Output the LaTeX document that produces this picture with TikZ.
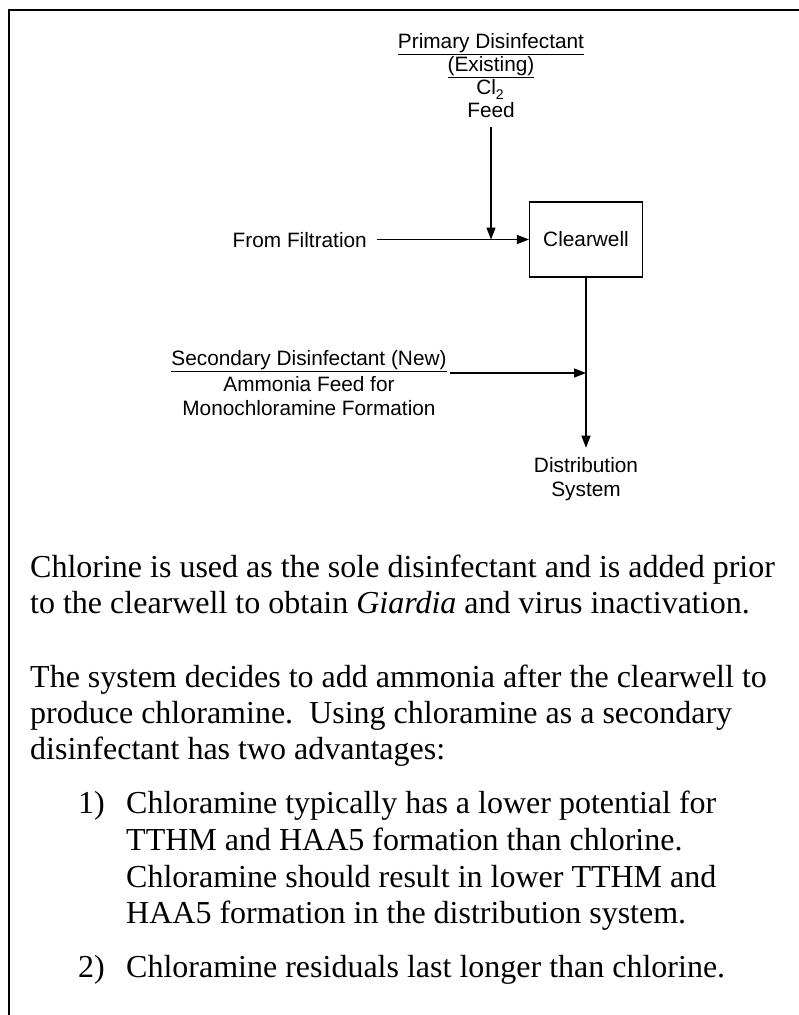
\documentclass[tikz,border=0pt]{standalone}
\usepackage{fontspec}
\setmainfont{Liberation Serif}
\newfontfamily\diagfont{Liberation Sans}
\usetikzlibrary{arrows.meta}
\begin{document}
\begin{tikzpicture}[x=1pt,y=-1pt,
  lbl/.style={font=\diagfont\fontsize{20.8}{23.5}\selectfont, inner sep=0pt},
  flow/.style={line width=1.3pt, -{Triangle[length=12pt,width=9pt]}},
  tank/.style={draw, line width=1.1pt, minimum width=113pt, minimum height=75pt,
    inner sep=0pt, font=\diagfont\fontsize{20.8}{23.5}\selectfont},
  bodyline/.style={font=\fontsize{32}{36.6}\selectfont, anchor=base west, inner sep=0pt},
]
\useasboundingbox (0,0) rectangle (799,1015);

% page frame (top and left edges)
\draw[line width=2.4pt] (9,1015) -- (9,10) -- (799,10);

% primary chlorine feed
\node[lbl, anchor=base] (prim)  at (491,48)  {\underline{Primary Disinfectant}};
\node[lbl, anchor=base] (exist) at (491,71)  {\underline{(Existing)}};
\node[lbl, anchor=base] (cl)    at (490,94)  {Cl\raisebox{-5pt}{\fontsize{14}{14}\selectfont 2}};
\node[lbl, anchor=base] (feed)  at (491,117) {Feed};

% clearwell and incoming flow
\node[tank] (box) at (586,239.5) {Clearwell};
\node[lbl, anchor=base east] (filt) at (367,247) {From Filtration};
\coordinate (j1) at (491,239.5);
\draw[flow, shorten <=10pt] (filt.east |- box.west) -- (box.west);
\draw[flow, shorten <=10pt] (feed.south) -- (j1);

% secondary ammonia feed
\node[lbl, anchor=base] (sec)  at (309,365) {\underline{Secondary Disinfectant (New)}};
\node[lbl, anchor=base] (amm)  at (309,391) {Ammonia Feed for};
\node[lbl, anchor=base] (mono) at (309,415) {Monochloramine Formation};
\coordinate (j2) at (586,373);

% distribution
\node[lbl, anchor=base] (dist) at (586,472) {Distribution};
\node[lbl, anchor=base] (sys)  at (586,496) {System};
\draw[flow, shorten >=9pt] (box.south) -- (dist.north);
\draw[flow] (sec.east |- j2) ++(3,0) -- (j2);

% explanatory text
\node[bodyline] (p1a) at (30,577) {Chlorine is used as the sole disinfectant and is added prior};
\node[bodyline] (p1b) at (30,613) {to the clearwell to obtain \textit{Giardia} and virus inactivation.};
\node[bodyline] (p2a) at (30,687) {The system decides to add ammonia after the clearwell to};
\node[bodyline] (p2b) at (30,723) {produce chloramine.\ \ Using chloramine as a secondary};
\node[bodyline] (p2c) at (30,759) {disinfectant has two advantages:};
\node[bodyline] (n1)  at (78,813) {1)};
\node[bodyline] (i1a) at (126,813) {Chloramine typically has a lower potential for};
\node[bodyline] (i1b) at (126,850) {TTHM and HAA5 formation than chlorine.};
\node[bodyline] (i1c) at (126,887) {Chloramine should result in lower TTHM and};
\node[bodyline] (i1d) at (126,923) {HAA5 formation in the distribution system.};
\node[bodyline] (n2)  at (78,977) {2)};
\node[bodyline] (i2a) at (126,977) {Chloramine residuals last longer than chlorine.};
\end{tikzpicture}
\end{document}
